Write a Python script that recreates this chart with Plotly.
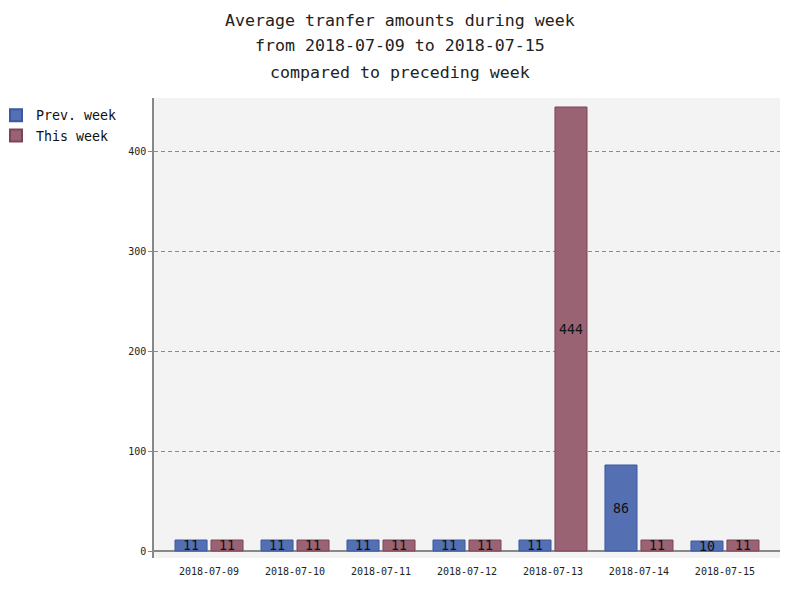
import plotly.graph_objects as go

days = ["2018-07-09", "2018-07-10", "2018-07-11", "2018-07-12",
        "2018-07-13", "2018-07-14", "2018-07-15"]
prev_week = [11, 11, 11, 11, 11, 86, 10]
this_week = [11, 11, 11, 11, 444, 11, 11]

title_lines = [
    "Average tranfer amounts during week",
    "from 2018-07-09 to 2018-07-15",
    "compared to preceding week",
]

MONO = "DejaVu Sans Mono"
# page body adds an 8px offset, so the figure frame is shifted up/left
PLOT_L, PLOT_R, PLOT_T, PLOT_B = 146, 772, 90, 550
PW, PH = PLOT_R - PLOT_L, PLOT_B - PLOT_T


def bar_trace(name, values, fill, edge):
    return go.Bar(
        name=name,
        x=list(range(len(days))),
        y=values,
        text=[str(v) for v in values],
        textposition="inside",
        insidetextanchor="middle",
        insidetextfont=dict(family=MONO, size=13.3, color="#111111"),
        marker=dict(color=fill, line=dict(color=edge, width=1)),
        cliponaxis=False,
        hoverinfo="skip",
    )


fig = go.Figure()
fig.add_trace(bar_trace("Prev. week", prev_week, "#5470b2", "#3b58a0"))
fig.add_trace(bar_trace("This week", this_week, "#9a6373", "#7c4458"))

# three title lines as separate annotations to keep pygal-like spacing
for i, line in enumerate(title_lines):
    ypx = 12 + 26 * i
    fig.add_annotation(
        text=line, xref="paper", yref="paper",
        x=(392 - PLOT_L) / PW,
        y=(PLOT_B - ypx) / PH,
        xanchor="center", yanchor="middle", showarrow=False,
        font=dict(family=MONO, size=16.6, color="#222222"),
    )

fig.update_layout(
    width=800,
    height=600,
    barmode="group",
    bargap=0.163,
    bargroupgap=0.11,
    paper_bgcolor="white",
    plot_bgcolor="#f3f3f3",
    margin=dict(l=PLOT_L, r=800 - PLOT_R, t=PLOT_T, b=600 - PLOT_B,
                autoexpand=False),
    font=dict(family=MONO, size=10, color="#222222"),
    uniformtext=dict(mode="show", minsize=13.3),
    showlegend=True,
    legend=dict(
        xref="paper", yref="paper",
        x=(-12 - PLOT_L) / PW, y=(PLOT_B - 92) / PH,
        xanchor="left", yanchor="top",
        font=dict(family=MONO, size=13.3, color="#111111"),
        bgcolor="rgba(0,0,0,0)",
        tracegroupgap=0,
        itemsizing="constant",
        itemwidth=30,
    ),
    xaxis=dict(
        tickmode="array",
        tickvals=list(range(len(days))),
        ticktext=days,
        range=[-0.64, 6.64],
        showgrid=False,
        zeroline=False,
        showline=False,
        ticks="",
        ticklabelstandoff=6,
        tickfont=dict(family=MONO, size=10, color="#222222"),
        fixedrange=True,
    ),
    yaxis=dict(
        range=[-7, 453],
        tickvals=[0, 100, 200, 300, 400],
        showgrid=True,
        gridcolor="#8a8a8a",
        griddash="4px,3px",
        gridwidth=1,
        zeroline=True,
        zerolinecolor="#888888",
        zerolinewidth=1.5,
        showline=True,
        linecolor="#888888",
        linewidth=1.5,
        ticks="outside",
        ticklen=4,
        tickcolor="#888888",
        tickfont=dict(family=MONO, size=10, color="#222222"),
        fixedrange=True,
    ),
)

fig.write_html("out.html")
